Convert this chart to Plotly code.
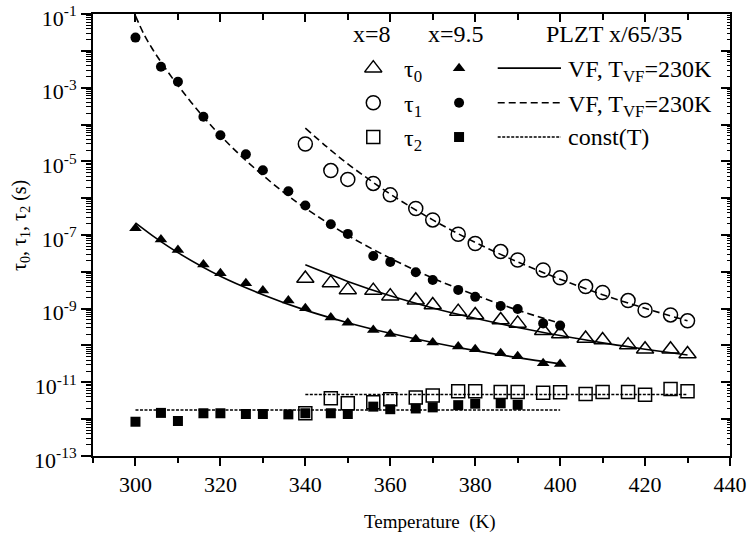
import plotly.graph_objects as go

# ---------------- data (log10 of tau in seconds) ----------------
T95 = [300, 306, 310, 316, 320, 326, 330, 336, 340, 346, 350, 356, 360, 366, 370, 376, 380, 386, 390, 396, 400]
tau0_95 = [-6.82, -7.12, -7.41, -7.80, -8.04, -8.31, -8.51, -8.78, -8.99, -9.24, -9.38, -9.58, -9.69, -9.83,
           -9.92, -10.03, -10.10, -10.21, -10.29, -10.48, -10.50]
tau1_95 = [-1.64, -2.43, -2.84, -3.79, -4.29, -4.81, -5.24, -5.81, -6.20, -6.71, -6.97, -7.57, -7.73, -8.01,
           -8.22, -8.49, -8.68, -8.93, -9.01, -9.40, -9.46]
T95_2 = [300, 306, 310, 316, 320, 326, 330, 336, 340, 346, 350, 356, 360, 366, 370, 376, 380, 386, 390]
tau2_95 = [-12.07, -11.83, -12.05, -11.84, -11.84, -11.86, -11.86, -11.87, -11.84, -11.84, -11.86, -11.66,
           -11.73, -11.71, -11.68, -11.62, -11.58, -11.57, -11.61]

T8 = [340, 346, 350, 356, 360, 366, 370, 376, 380, 386, 390, 396, 400, 406, 410, 416, 420, 426, 430]
tau0_8 = [-8.18, -8.30, -8.49, -8.51, -8.66, -8.77, -8.90, -9.08, -9.17, -9.31, -9.40, -9.60, -9.69, -9.81,
          -9.85, -9.99, -10.10, -10.10, -10.23]
tau1_8 = [-4.53, -5.25, -5.49, -5.60, -5.91, -6.28, -6.59, -6.98, -7.23, -7.45, -7.68, -7.95, -8.16, -8.40,
          -8.56, -8.78, -9.04, -9.17, -9.33]
tau2_8 = [-11.84, -11.43, -11.57, -11.54, -11.46, -11.41, -11.36, -11.24, -11.24, -11.26, -11.26, -11.28,
          -11.27, -11.32, -11.26, -11.26, -11.34, -11.18, -11.24]

# fitted curves
fitT_tau1_95 = [300, 302, 304, 306, 308, 310, 315, 320, 325, 330, 335, 340, 350, 360, 370, 380, 390, 400]
fit_tau1_95 = [-1.05, -1.55, -1.95, -2.30, -2.63, -2.94, -3.66, -4.30, -4.87, -5.38, -5.85, -6.27, -7.01,
               -7.63, -8.17, -8.63, -9.04, -9.40]
fitT_tau0_95 = [300, 305, 310, 320, 330, 340, 350, 360, 370, 380, 390, 400]
fit_tau0_95 = [-6.67, -7.10, -7.48, -8.12, -8.62, -9.04, -9.38, -9.67, -9.92, -10.14, -10.33, -10.50]
fitT_tau0_8 = [340, 350, 360, 370, 380, 390, 400, 410, 420, 430]
fit_tau0_8 = [-7.81, -8.26, -8.65, -8.98, -9.26, -9.51, -9.73, -9.93, -10.10, -10.26]
fitT_tau1_8 = [340, 345, 350, 355, 360, 370, 380, 390, 400, 410, 420, 430]
fit_tau1_8 = [-4.10, -4.60, -5.07, -5.49, -5.89, -6.59, -7.20, -7.73, -8.20, -8.62, -8.99, -9.33]
constT_95 = [300, 400]
const_95 = [-11.75, -11.75]
constT_8 = [340, 430]
const_8 = [-11.33, -11.33]

x_ticks = [300, 320, 340, 360, 380, 400, 420, 440]
y_exps = list(range(-13, 0))
y_labels = [f"10<sup>{e}</sup>" if e % 2 else "" for e in y_exps]


def p(v):
    return [10 ** e for e in v]


FONT = '"Liberation Serif", "Times New Roman", "DejaVu Serif", serif'
BLK = "black"
fig = go.Figure()

# fit lines
line_specs = [
    (fitT_tau1_95, fit_tau1_95, "7px,4px", True),
    (fitT_tau1_8, fit_tau1_8, "7px,4px", True),
    (fitT_tau0_95, fit_tau0_95, "solid", True),
    (fitT_tau0_8, fit_tau0_8, "solid", True),
    (constT_95, const_95, "3px,1.5px", False),
    (constT_8, const_8, "3px,1.5px", False),
]
for xs, ys, dash, sp in line_specs:
    fig.add_trace(go.Scatter(x=xs, y=p(ys), mode="lines",
                             line=dict(color=BLK, width=1.6, dash=dash,
                                       shape="spline" if sp else "linear"),
                             hoverinfo="skip", showlegend=False))

marker_specs = [
    (T8, tau0_8, "triangle-up-open", 15, True),
    (T8, tau1_8, "circle-open", 14, True),
    (T8, tau2_8, "square-open", 13, True),
    (T95, tau0_95, "triangle-up", 11, False),
    (T95, tau1_95, "circle", 10, False),
    (T95_2, tau2_95, "square", 10, False),
]
for xs, ys, sym, sz, op in marker_specs:
    fig.add_trace(go.Scatter(x=xs, y=p(ys), mode="markers",
                             marker=dict(symbol=sym, size=sz, color=BLK,
                                         line=dict(color=BLK, width=1.5 if op else 0)),
                             showlegend=False))

# -------- hand-made legend --------
rows = [-2.47, -3.41, -4.34]
leg_sym_open = ["triangle-up-open", "circle-open", "square-open"]
leg_sz_open = [15, 14, 13]
leg_sym_fill = ["triangle-up", "circle", "square"]
leg_sz_fill = [11, 10, 10]
for i in range(3):
    fig.add_trace(go.Scatter(x=[356], y=[10 ** rows[i]], mode="markers",
                             marker=dict(symbol=leg_sym_open[i], size=leg_sz_open[i], color=BLK,
                                         line=dict(color=BLK, width=1.5)),
                             hoverinfo="skip", showlegend=False))
    fig.add_trace(go.Scatter(x=[376.2], y=[10 ** rows[i]], mode="markers",
                             marker=dict(symbol=leg_sym_fill[i], size=leg_sz_fill[i], color=BLK),
                             hoverinfo="skip", showlegend=False))
leg_dash = ["solid", "7px,4px", "3px,1.5px"]
for i in range(3):
    fig.add_trace(go.Scatter(x=[385.3, 400.2], y=[10 ** rows[i]] * 2, mode="lines",
                             line=dict(color=BLK, width=1.6, dash=leg_dash[i]),
                             hoverinfo="skip", showlegend=False))

# invisible trace for the mirrored axes
fig.add_trace(go.Scatter(x=[300], y=[1e-5], xaxis="x2", yaxis="y2", mode="markers",
                         marker=dict(opacity=0), hoverinfo="skip", showlegend=False))

L, R, Tm, B = 93, 19, 14, 83
W, H = 749, 539
pw, ph = W - L - R, H - Tm - B


def px(xp):
    return (xp - L) / pw


def py(yp):
    return 1 - (yp - Tm) / ph


ann = []
tf = dict(family=FONT, size=24, color=BLK)


def add(xp, yp, text, xanchor="center", font=tf, **kw):
    ann.append(dict(x=px(xp), y=py(yp), text=text, showarrow=False, xanchor=xanchor,
                    yanchor="middle", xref="paper", yref="paper", font=font, **kw))


add(372, 34, "x=8")
add(456, 34, "x=9.5")
add(614, 34, "PLZT x/65/35")
row_px = [68, 103, 137]
for i, r in enumerate(row_px):
    add(413, r + 3, f"τ<sub>{i}</sub>")
add(566, row_px[0] + 3, "VF, T<sub>VF</sub>=230K", xanchor="left")
add(566, row_px[1] + 3, "VF, T<sub>VF</sub>=230K", xanchor="left")
add(566, row_px[2], "const(T)", xanchor="left")
add(430, 522, "Temperature  (K)", font=dict(family=FONT, size=19, color=BLK))
add(20, 226, "τ<sub>0</sub>, τ<sub>1</sub>, τ<sub>2</sub> (s)", font=dict(family=FONT, size=20, color=BLK),
    textangle=-90)

axis_common = dict(showline=True, linecolor=BLK, linewidth=2, showgrid=False, zeroline=False,
                   automargin=False)
YR = [-13.0005, -0.9995]
fig.update_layout(
    width=W, height=H, margin=dict(l=L, r=R, t=Tm, b=B, autoexpand=False),
    paper_bgcolor="white", plot_bgcolor="white",
    font=dict(family=FONT, color=BLK),
    showlegend=False,
    annotations=ann,
    xaxis=dict(range=[290, 440], tickmode="array", tickvals=x_ticks,
               ticks="outside", ticklen=8, tickwidth=1.5, tickcolor=BLK,
               tickfont=dict(family=FONT, size=22, color=BLK), ticklabeloverflow="allow",
               minor=dict(ticks="outside", dtick=10, tick0=290, ticklen=5, tickwidth=1.5, tickcolor=BLK),
               **axis_common),
    xaxis2=dict(range=[290, 440], overlaying="x", side="top", anchor="y", tickmode="array",
                tickvals=x_ticks, ticks="inside", ticklen=8, tickwidth=1.5, tickcolor=BLK,
                showticklabels=False,
                minor=dict(ticks="inside", dtick=10, tick0=290, ticklen=6, tickwidth=1.5, tickcolor=BLK),
                **axis_common),
    yaxis=dict(type="log", range=YR, tickmode="array",
               tickvals=[10 ** e for e in y_exps], ticktext=y_labels,
               ticks="outside", ticklen=10, tickwidth=1.5, tickcolor=BLK,
               tickfont=dict(family=FONT, size=22, color=BLK), ticklabeloverflow="allow",
               ticklabelshift=4,
               minor=dict(ticks="outside", dtick="D1", ticklen=5, tickwidth=1, tickcolor=BLK),
               **axis_common),
    yaxis2=dict(type="log", range=YR, overlaying="y", side="right", anchor="x",
                tickmode="array", tickvals=[10 ** e for e in y_exps],
                ticks="inside", ticklen=9, tickwidth=1.5, tickcolor=BLK, showticklabels=False,
                minor=dict(ticks="inside", dtick="D1", ticklen=3, tickwidth=1, tickcolor=BLK),
                **axis_common),
)

fig.write_html("out.html")
